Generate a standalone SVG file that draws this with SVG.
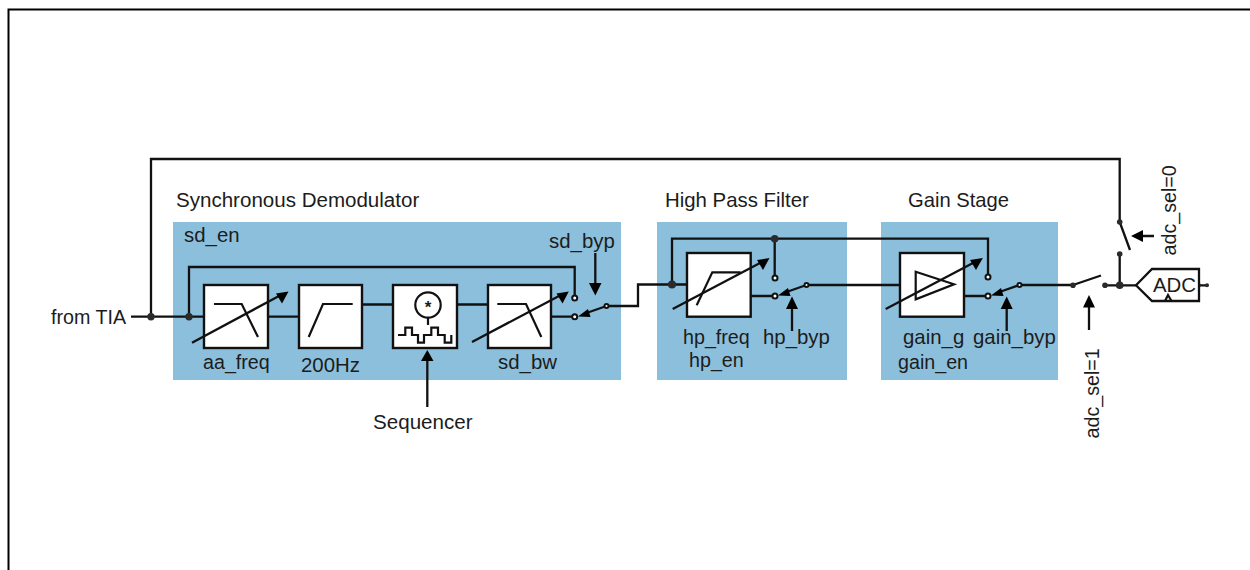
<svg xmlns="http://www.w3.org/2000/svg" width="1250" height="570" viewBox="0 0 1250 570">
<style>
.bg{fill:#8cbfdb}
.box{fill:#fff;stroke:#111;stroke-width:2.4}
.w{fill:none;stroke:#111;stroke-width:2.3;stroke-linejoin:miter}
.i{fill:none;stroke:#111;stroke-width:2.2}
.d{fill:#2b2b2b}
.o{fill:#fff;stroke:#111;stroke-width:2}
.h{fill:#000}
text{font-family:"Liberation Sans",Arial,sans-serif;font-size:20.4px;fill:#1c1c1c}
.s{font-size:19.7px}
</style>
<rect width="1250" height="570" fill="#fff"/>
<path id="frame" d="M8.5 570V9.5H1250" fill="none" stroke="#000" stroke-width="2"/>
<rect id="sd-panel" class="bg" x="173" y="222" width="448" height="158"/>
<rect id="hp-panel" class="bg" x="657" y="222" width="190" height="158"/>
<rect id="gain-panel" class="bg" x="881" y="222" width="177" height="158"/>
<g id="connectors">
<path class="w" d="M131 316.7H204M268 316.7H299M362 304.5H488M551 316.7H575"/>
<path class="w" d="M151 316.7V159H1119.7V222"/>
<path class="w" d="M189 316.7V267H574.7V298"/>
<path class="w" d="M606.5 306H638V284.5H687"/>
<path class="w" d="M672 284.5V238.7H988V277M774.7 238.7V278"/>
<path class="w" d="M750.7 296H775M806.5 285H900M964 296H988M1019.5 285H1073"/>
<path class="w" d="M1105 285.3H1136M1119.7 254V285.3M1199 285.3H1207"/>
<path class="w" d="M606.5 306L585 313.5M806.5 285L785 292.5M1019.5 285L998 292.5M1073 285L1101 275.5M1119.7 222L1130 250"/>
<path class="w" d="M595.3 253V285M792 308V331M1006.7 308V331M427.3 360V407M1154 236H1140M1089 306V330"/>
</g>
<g id="aa_freq">
<rect class="box" x="204" y="285" width="64" height="63"/>
<path class="i" d="M214 304H241.7L258 337"/>
<path class="w" d="M192 342.7L279 296"/><path class="h" d="M288.5 291.5L276 293.5L282 303.5Z"/>
<text x="203" y="369" class="s">aa_freq</text>
</g>
<g id="hz200">
<rect class="box" x="299" y="285" width="63" height="63"/>
<path class="i" d="M308.7 337L323 304H352.7"/>
<text x="301" y="372">200Hz</text>
</g>
<g id="demod">
<rect class="box" x="393" y="285" width="64" height="63"/>
<circle cx="428" cy="305" r="12.7" fill="#fff" stroke="#111" stroke-width="2.2"/>
<path class="i" d="M428 317.5V325M398 335H405.3V327.7H412V335H418V342.7H424V335H431.3V327.7H438V335H444.7V342.7H451.3V335"/>
<text x="428" y="313" text-anchor="middle" style="font-size:17px;font-weight:bold">*</text>
</g>
<g id="sd_bw">
<rect class="box" x="488" y="285" width="63" height="63"/>
<path class="i" d="M497.3 304H526L541.3 337"/>
<path class="w" d="M472 342L559 296"/><path class="h" d="M568.8 291.5L556.5 293.5L562.5 303.5Z"/>
<text x="498" y="369">sd_bw</text>
</g>
<g id="hp_filter">
<rect class="box" x="687" y="253" width="63.7" height="63.7"/>
<path class="i" d="M696.7 305.3L712.3 272.3H740.7"/>
<path class="w" d="M672.7 309L760 263"/><path class="h" d="M769.5 258L757 260L763 270Z"/>
<text x="683" y="344" class="s">hp_freq</text>
<text x="689" y="367" class="s">hp_en</text>
</g>
<g id="gain_stage">
<rect class="box" x="900" y="253" width="64" height="63.7"/>
<path class="i" d="M915.7 271.7L954 284.3L915.7 299.3Z"/>
<path class="w" d="M885.7 309L973 263"/><path class="h" d="M982.8 258L970 260L976 270Z"/>
<text x="903" y="344">gain_g</text>
<text x="898" y="369" class="s">gain_en</text>
</g>
<g id="switches">
<path class="h" d="M578 316.5L588 309L590.5 317Z"/>
<path class="h" d="M778 295.5L788 288L790.5 296Z"/>
<path class="h" d="M991 295.5L1001 288L1003.5 296Z"/>
<circle class="o" cx="574.7" cy="298" r="2.5"/><circle class="o" cx="574.7" cy="316.7" r="2.5"/><circle class="o" cx="606.5" cy="306" r="2"/>
<circle class="o" cx="775" cy="278" r="2.5"/><circle class="o" cx="775" cy="296" r="2.5"/><circle class="o" cx="806.5" cy="285" r="2"/>
<circle class="o" cx="988" cy="277" r="2.5"/><circle class="o" cx="988" cy="296" r="2.5"/><circle class="o" cx="1019.5" cy="285" r="2"/>
</g>
<g id="junctions">
<circle class="d" cx="151" cy="316.7" r="3.7"/><circle class="d" cx="189" cy="316.7" r="3.7"/>
<circle class="d" cx="672" cy="284.5" r="4"/><circle class="d" cx="774.7" cy="238.7" r="3.8"/>
<circle class="d" cx="1073" cy="285.3" r="2.8"/><circle class="d" cx="1105" cy="285.3" r="2.8"/>
<circle class="d" cx="1119.7" cy="285.3" r="3.8"/><circle class="d" cx="1119.7" cy="222" r="2.8"/><circle class="d" cx="1119.7" cy="254" r="2.8"/>
<circle class="d" cx="1199" cy="285.3" r="2"/><circle class="d" cx="1207" cy="285.3" r="2"/>
</g>
<g id="arrows">
<path class="h" d="M595.3 295.5L589 283H601.5Z"/>
<path class="h" d="M792 296.5L786 309H798Z"/>
<path class="h" d="M1006.7 296.5L1000.7 309H1012.7Z"/>
<path class="h" d="M427.3 350L421 361H433.5Z"/>
<path class="h" d="M1131 236L1143 230V242Z"/>
<path class="h" d="M1089 295L1083 307.5H1095Z"/>
</g>
<g id="adc">
<path d="M1136 285.3L1152 269H1199V301H1152Z" fill="#fff" stroke="#111" stroke-width="2.3"/>
<path class="i" d="M1165 301L1168 295L1171.5 301"/>
<text x="1153" y="292">ADC</text>
</g>
<text x="176" y="206.5" style="font-size:20.55px">Synchronous Demodulator</text>
<text x="665" y="206.5">High Pass Filter</text>
<text x="908" y="206.5" style="font-size:20.2px">Gain Stage</text>
<text x="184" y="241.5">sd_en</text>
<text x="549" y="248">sd_byp</text>
<text x="763" y="344">hp_byp</text>
<text x="973" y="344">gain_byp</text>
<text x="51" y="323.5" class="s">from TIA</text>
<text x="373" y="428.5" style="font-size:20.6px">Sequencer</text>
<text class="s" transform="translate(1175.5 255.5) rotate(-90)">adc_sel=0</text>
<text class="s" transform="translate(1099 438.5) rotate(-90)">adc_sel=1</text>
</svg>
